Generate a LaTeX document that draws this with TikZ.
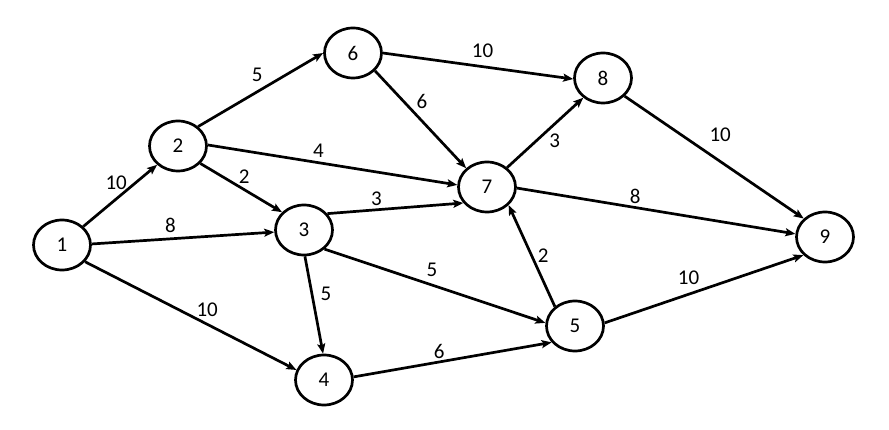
\documentclass[tikz,border=0pt]{standalone}
\usepackage{fontspec}
\setmainfont{Carlito}
\usetikzlibrary{arrows.meta,shapes.geometric}
\begin{document}
\begin{tikzpicture}[x=1pt,y=-1pt,
  vtx/.style={draw, line width=2.7pt, ellipse, minimum width=57pt, minimum height=50pt, inner sep=0pt, font=\fontsize{21}{21}\selectfont},
  arr/.style={line width=2.7pt, -{Stealth[length=10pt,width=8pt,inset=2pt]}},
  lab/.style={font=\fontsize{21}{21}\selectfont, inner sep=0pt}]
\useasboundingbox (0,0) rectangle (889,430);
\node[vtx] (n1) at (62,245) {1};
\node[vtx] (n2) at (178,146) {2};
\node[vtx] (n6) at (353,53) {6};
\node[vtx] (n3) at (304,230) {3};
\node[vtx] (n7) at (487,187) {7};
\node[vtx] (n8) at (603,78) {8};
\node[vtx] (n9) at (825,237) {9};
\node[vtx] (n5) at (575,326) {5};
\node[vtx] (n4) at (324,380) {4};
\draw[arr] (n1.41) -- node[lab, shift={(-4,-13)}] {10} (n2.222);
\draw[arr] (n1.2) -- node[lab, shift={(-12.5,-13)}] {8} (n3.184);
\draw[arr] (n1.-36) -- node[lab, shift={(16.5,-6)}] {10} (n4.160);
\draw[arr] (n2.44) -- node[lab, shift={(-3.5,-15)}] {5} (n6.180);
\draw[arr] (n2.2) -- node[lab, shift={(-14,-14)}] {4} (n7.176);
\draw[arr] (n2.-38) -- node[lab, shift={(3,-11.5)}] {2} (n3.141);
\draw[arr] (n3.35) -- node[lab, shift={(-19,-9.5)}] {3} (n7.214);
\draw[arr] (n3.-88) -- node[lab, shift={(12,-11)}] {5} (n4.92);
\draw[arr] (n3.-43) -- node[lab, shift={(-3,-16.5)}] {5} (n5.174);
\draw[arr] (n6.0) -- node[lab, shift={(4.5,-15.5)}] {10} (n8.182);
\draw[arr] (n6.-39) -- node[lab, shift={(1.5,-18)}] {6} (n7.138);
\draw[arr] (n7.44) -- node[lab, shift={(9.5,8)}] {3} (n8.225);
\draw[arr] (n7.-2) -- node[lab, shift={(-21,-15)}] {8} (n9.174);
\draw[arr] (n8.-40) -- node[lab, shift={(6,-22.5)}] {10} (n9.139);
\draw[arr] (n5.136) -- node[lab, shift={(11.5,-0.5)}] {2} (n7.-40);
\draw[arr] (n5.6) -- node[lab, shift={(-15.5,-11)}] {10} (n9.220);
\draw[arr] (n4.6) -- node[lab, shift={(-13.5,-8.5)}] {6} (n5.215);
\end{tikzpicture}
\end{document}
